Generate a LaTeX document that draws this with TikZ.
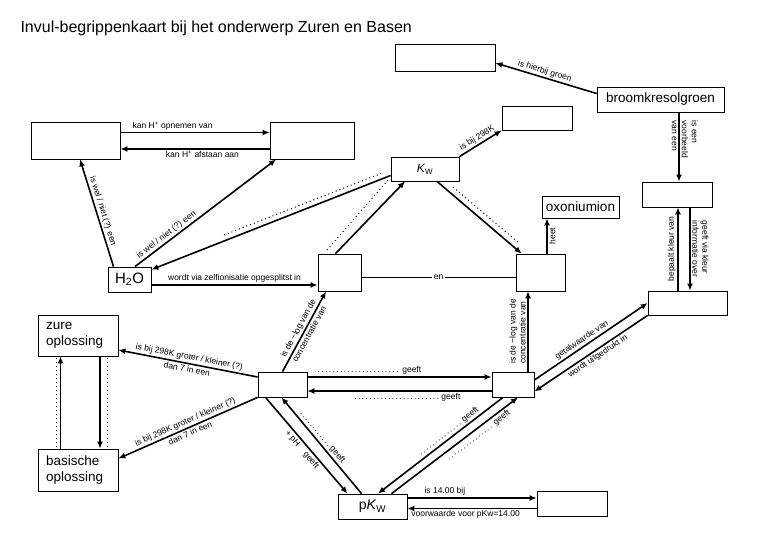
\documentclass[tikz,border=0pt]{standalone}
\usepackage{fontspec}
\setmainfont{Liberation Sans}
\usetikzlibrary{arrows.meta,calc}
\newcommand\lblfont{\fontsize{8.5}{10}\selectfont}
\newcommand\boxfont{\fontsize{13.5}{16}\selectfont}
\newcommand\dotgeeft[2]{\makebox[#1]{\dotfill\,#2}}
\begin{document}
\begin{tikzpicture}[x=1pt,y=-1pt,
  box/.style={draw, line width=0.8pt, inner sep=0pt, font=\boxfont},
  con/.style={line width=1.6pt},
  arr/.style={con, -{Latex[length=7pt,width=6pt]}},
  rarr/.style={con, {Latex[length=7pt,width=6pt]}-},
  lbl/.style={font=\lblfont, inner sep=1.5pt},
  dotl/.style={line width=1pt, dash pattern=on 1pt off 3pt},
  thinl/.style={line width=0.8pt}]
\fill[white] (0,0) rectangle (780,540);
\useasboundingbox (0,0) rectangle (780,540);
\node[anchor=base west, font=\fontsize{16}{19}\selectfont] (title) at (17,33) {Invul-begrippenkaart bij het onderwerp Zuren en Basen};
% boxes
\node[box, minimum width=100pt, minimum height=27pt] (Btop) at (445,57.5) {};
\node[box, minimum width=127pt, minimum height=25pt] (broom) at (660.5,99.5) {broomkresolgroen};
\node[box, minimum width=70pt, minimum height=24pt] (B298) at (537,118) {};
\node[box, minimum width=68pt, minimum height=24pt, font=\fontsize{12}{14}\selectfont] (Kw) at (425,169) {\textit{K}\textsubscript{W}};
\node[box, minimum width=89pt, minimum height=37pt] (A) at (75.5,140.5) {};
\node[box, minimum width=84pt, minimum height=37pt] (B) at (312,140.5) {};
\node[box, minimum width=43pt, minimum height=25pt, font=\fontsize{15}{17}\selectfont] (H2O) at (129.5,279.5) {H\textsubscript{2}O};
\node[box, minimum width=43pt, minimum height=37pt] (C) at (339.5,272.5) {};
\node[box, minimum width=49pt, minimum height=37pt] (D) at (540.5,272.5) {};
\node[box, minimum width=77pt, minimum height=22pt] (oxo) at (580.5,207) {oxoniumion};
\node[box, minimum width=70pt, minimum height=25pt] (E) at (677,194.5) {};
\node[box, minimum width=79pt, minimum height=24pt] (F) at (687.5,303) {};
\node[box, minimum width=42pt, minimum height=25pt] (G) at (513,384.5) {};
\node[box, minimum width=49pt, minimum height=25pt] (H) at (282.5,384.5) {};
\node[box, minimum width=80pt, minimum height=41pt, text width=64pt, inner xsep=8pt, align=left] (zure) at (78,335.5) {zure\\oplossing};
\node[box, minimum width=80pt, minimum height=42pt, text width=64pt, inner xsep=8pt, align=left] (bas) at (78,470) {basische\\oplossing};
\node[box, minimum width=69pt, minimum height=25pt, font=\fontsize{14}{16}\selectfont] (pKw) at (372.5,506.5) {p\textit{K}\textsubscript{W}};
\node[box, minimum width=70pt, minimum height=25pt] (I) at (572,503.5) {};
% helper coordinates
\coordinate (Etop) at ([xshift=2pt]E.north);
\coordinate (Fup) at ([xshift=-9.5pt]F.north);
\coordinate (Edn) at ([xshift=13pt]E.south);
\coordinate (Aup) at ([yshift=8pt]A.east);
\coordinate (Blo) at ([yshift=-8.5pt]B.west);
\coordinate (Hr) at ([yshift=-5.5pt]H2O.east);
\coordinate (Ce) at ([yshift=-5pt]C.east);
\coordinate (Dn) at ([xshift=6.5pt]D.north);
\coordinate (Gn) at ([xshift=15pt]G.north);
\coordinate (Hu) at ([yshift=7.5pt]H.east);
\coordinate (Hl) at ([yshift=-6.5pt]H.east);
\coordinate (Pu) at ([yshift=8.5pt]pKw.east);
\coordinate (Pl) at ([yshift=-2pt]pKw.east);
\coordinate (BasUp) at ([xshift=-17.5pt]bas.north);
\coordinate (ZurDn) at ([xshift=22pt]zure.south);
% connectors
\draw[rarr] ([yshift=-5.5pt]Btop.east) -- node[lbl, sloped, above, pos=0.47] {is hierbij groen} ([yshift=6pt]broom.west);
\draw[arr] (broom.south -| Etop) -- (Etop);
\node[lbl, rotate=-90, align=left] (vb) at ([xshift=24.5pt, yshift=-27pt]broom.south) {is een\\voorbeeld\\van een};
\draw[arr] (Fup) -- node[lbl, rotate=90, anchor=south] {bepaalt kleur van} (E.south -| Fup);
\draw[arr] (Edn) -- node[lbl, rotate=-90, anchor=south, align=left] {geeft via kleur\\informatie over} (F.north -| Edn);
\draw[arr] (Kw.north east) -- node[lbl, sloped, above] {is bij 298K} (B298.south west);
\draw[arr] (Aup) -- node[lbl, above, pos=0.35] {kan H\textsuperscript{+} opnemen van} (B.west |- Aup);
\draw[arr] (Blo) -- node[lbl, below, pos=0.45] {kan H\textsuperscript{+} afstaan aan} (A.east |- Blo);
\draw[rarr] ([xshift=4.5pt]A.south) -- node[lbl, sloped, above] {is wel / niet (?) een} ([xshift=-16pt]H2O.north);
\draw[arr] ([xshift=5.5pt]H2O.north) -- node[lbl, sloped, above, pos=0.25] {is wel / niet (?) een} ([xshift=6.5pt]B.south west);
\draw[arr] ([yshift=-6.5pt]Kw.west) -- ([yshift=-3pt]H2O.north east);
\draw[arr] ([xshift=-4pt]C.north) -- ([xshift=-20pt]Kw.south);
\draw[arr] ([xshift=12pt]Kw.south) -- ([xshift=6pt]D.north west);
\draw[dotl] (224,235) -- (381,173.5);
\draw[dotl] (327,250) -- (388,180);
\draw[dotl] (453,187) -- (520,244);
\draw[arr] (Hr) -- node[lbl, above] {wordt via zelfionisatie opgesplitst in} (C.west |- Hr);
\draw[thinl] (Ce) -- node[lbl, fill=white] {en} (D.west |- Ce);
\draw[arr] (Dn) -- node[lbl, rotate=90, anchor=north] {heet} (oxo.south -| Dn);
\draw[arr] (H.north) -- node[lbl, sloped, above] {is de −log van de} node[lbl, sloped, below] {concentratie van} ([xshift=-13.5pt]C.south);
\draw[arr] (Gn) -- node[lbl, rotate=90, anchor=south, align=left] {is de −log van de\\concentratie van} (D.south -| Gn);
\draw[rarr] ([yshift=-14.5pt]zure.east) -- node[lbl, sloped, above] {is bij 298K groter / kleiner (?)} node[lbl, sloped, below] {dan 7 in een} ([yshift=7.5pt]H.west);
\draw[rarr] ([yshift=11.5pt]bas.east) -- node[lbl, sloped, above] {is bij 298K groter / kleiner (?)} node[lbl, sloped, below] {dan 7 in een} (H.south west);
\draw[arr] (BasUp) -- (zure.south -| BasUp);
\draw[arr] (ZurDn) -- (bas.north -| ZurDn);
\draw[dotl] ([xshift=-21.5pt, yshift=-2pt]zure.south) -- ([xshift=-21.5pt, yshift=2pt]bas.north);
\draw[dotl] ([xshift=29.5pt, yshift=-2pt]zure.south) -- ([xshift=29.5pt, yshift=2pt]bas.north);
\draw[arr] (Hu) -- node[lbl, above, pos=0.33] {\dotgeeft{106pt}{geeft}} (G.west |- Hu);
\draw[rarr] (Hl) -- node[lbl, below, pos=0.54] {\dotgeeft{107pt}{geeft}} (G.west |- Hl);
\draw[arr] ([xshift=-17pt]H.south) -- node[lbl, sloped, below] {+ pH\hspace{10pt}geeft} ([xshift=-25pt]pKw.north);
\draw[rarr] ([xshift=-1pt]H.south) -- node[lbl, sloped, above, pos=0.45] {\dotgeeft{66pt}{geeft}} ([xshift=-11pt]pKw.north);
\draw[rarr] ([xshift=5.5pt]pKw.north) -- node[lbl, sloped, above, pos=0.59] {\dotgeeft{75pt}{geeft}} ([xshift=-10pt]G.south);
\draw[arr] ([xshift=19pt]pKw.north) -- node[lbl, sloped, below, pos=0.65] {\dotgeeft{80pt}{geeft}} ([xshift=5pt]G.south);
\draw[arr] (Pu) -- node[lbl, above, pos=0.29] {is 14.00 bij} (I.west |- Pu);
\draw[rarr] (Pl) -- node[lbl, below, pos=0.45] {voorwaarde voor pKw=14.00} (I.west |- Pl);
\draw[arr] ([yshift=4.5pt]G.east) -- node[lbl, sloped, above, pos=0.45] {getalwaarde van} (F.west);
\draw[rarr] ([yshift=-7pt]G.east) -- node[lbl, sloped, below, pos=0.53] {wordt uitgedrukt in} (F.south west);
\end{tikzpicture}
\end{document}
